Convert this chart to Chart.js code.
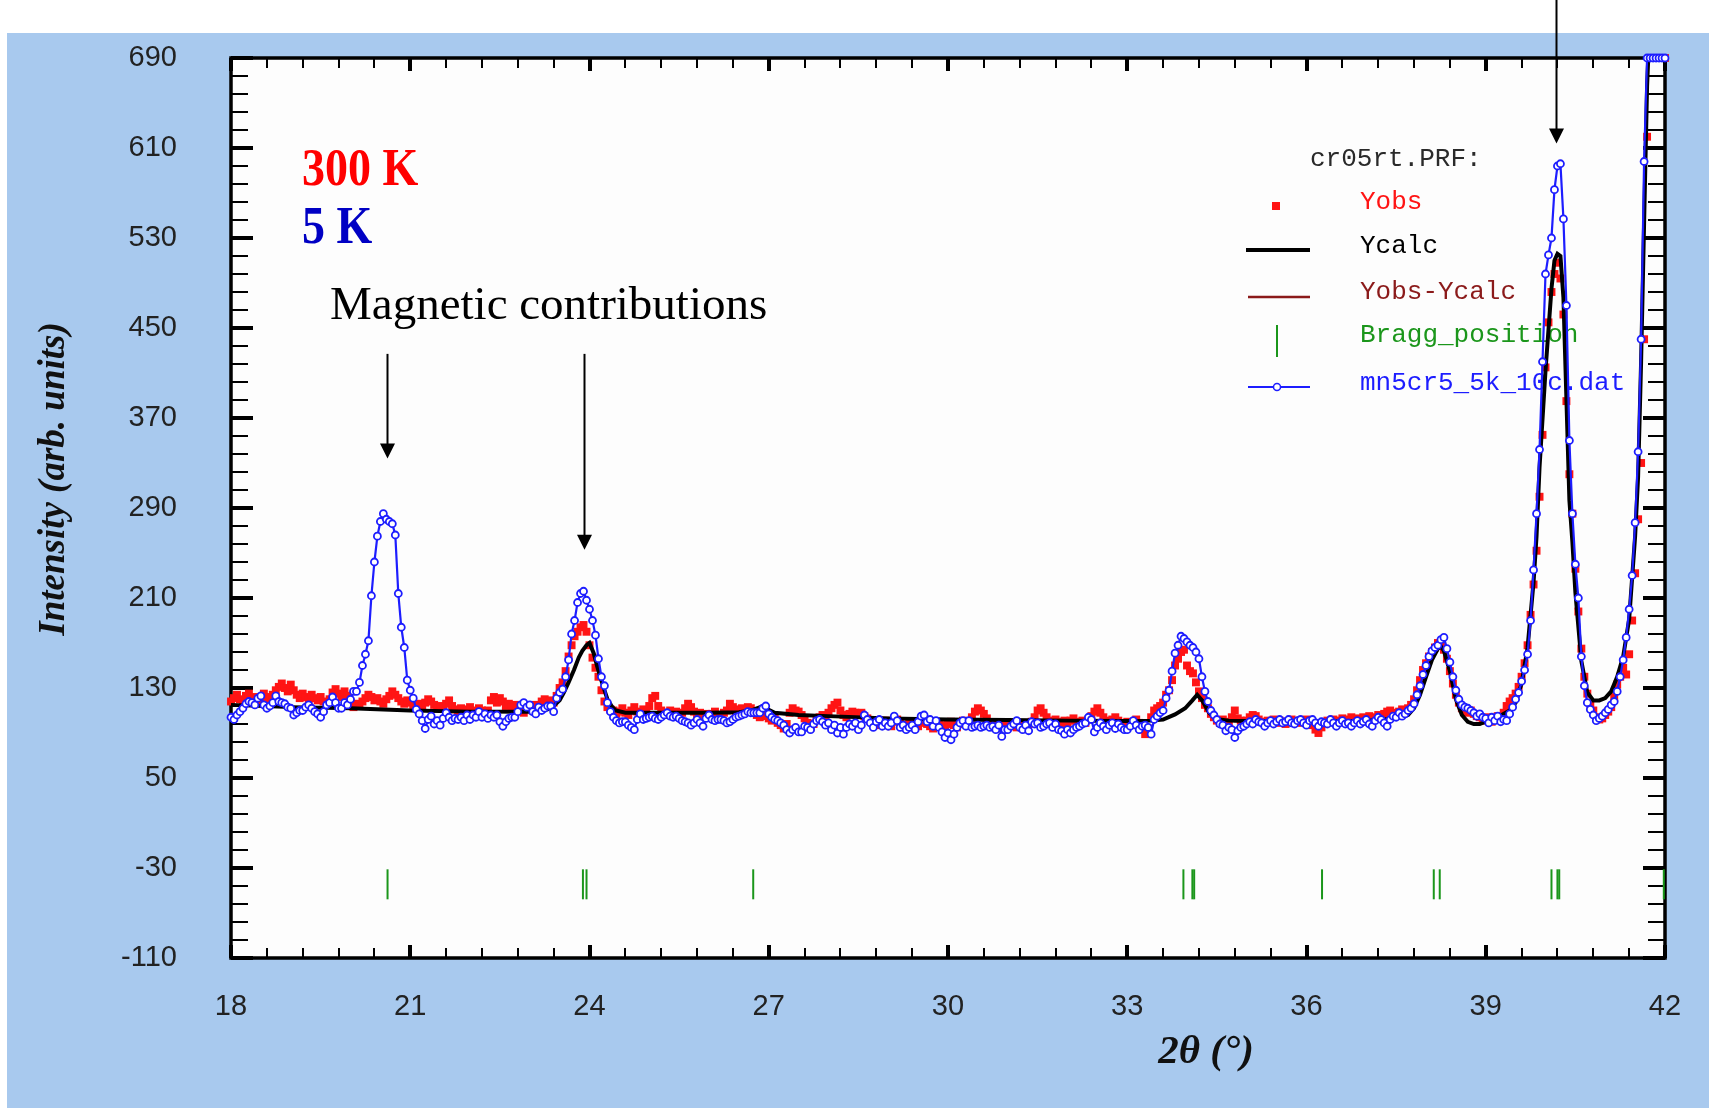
<!DOCTYPE html>
<html>
<head>
<meta charset="utf-8">
<script src="https://cdn.jsdelivr.net/npm/chart.js@4.4.1/dist/chart.umd.min.js"></script>
<style>
    html, body { margin: 0; padding: 0; background: #fff; }
    canvas { display: block; }
</style>
</head>
<body>
<canvas id="graficoDifracao" width="1709" height="1108"></canvas>
<script>
// grade de 2θ da medida (passo fixo)
const inicio2Theta = 18;
const passo2Theta = 0.05;

// Yobs a 300 K (cr05rt.PRF), uma linha por grau
const intensidade300K = [
    118, 121, 124, 120, 118, 123, 125, 120, 122, 118, 121, 125, 122, 120, 124, 128, 131, 134, 130, 127,
    133, 128, 124, 121, 125, 122, 120, 124, 121, 119, 122, 118, 116, 120, 126, 129, 125, 122, 127, 123,
    117, 113, 116, 114, 118, 121, 124, 122, 119, 121, 118, 116, 120, 123, 127, 124, 121, 118, 116, 119,
    117, 115, 113, 116, 114, 117, 120, 118, 115, 112, 114, 113, 116, 119, 114, 111, 109, 112, 108, 111,
    113, 110, 108, 112, 110, 107, 110, 119, 122, 117, 121, 118, 114, 116, 113, 115, 112, 110, 108, 112,
    113, 110, 115, 112, 118, 120, 116, 119, 117, 123, 130, 135, 145, 158, 168, 176, 180, 184, 186, 180,
    168, 157, 148, 140, 128, 118, 113, 111, 110, 107, 109, 112, 108, 106, 110, 113, 109, 107, 111, 108,
    114, 121, 123, 114, 110, 108, 106, 110, 107, 109, 105, 108, 112, 116, 113, 109, 106, 108, 105, 107,
    104, 107, 109, 106, 104, 108, 110, 116, 113, 109, 111, 112, 110, 113, 112, 108, 106, 104, 107, 105,
    103, 101, 104, 99, 97, 94, 98, 108, 112, 110, 109, 106, 103, 99, 95, 98, 102, 104, 106, 104,
    108, 112, 115, 117, 110, 106, 104, 107, 109, 108, 106, 108, 105, 103, 101, 98, 100, 97, 99, 101,
    98, 96, 100, 102, 99, 97, 95, 98, 100, 99, 96, 99, 101, 98, 96, 94, 97, 99, 97, 95,
    98, 100, 97, 95, 98, 101, 99, 97, 104, 109, 112, 110, 107, 103, 99, 97, 95, 98, 94, 97,
    99, 96, 98, 95, 97, 99, 96, 98, 100, 104, 110, 112, 108, 104, 101, 99, 102, 100, 98, 101,
    99, 101, 103, 100, 98, 101, 99, 102, 105, 109, 112, 108, 104, 101, 99, 102, 104, 101, 97, 95,
    100, 97, 99, 102, 99, 93, 89, 94, 104, 110, 112, 114, 117, 124, 128, 137, 150, 156, 162, 164,
    150, 145, 143, 135, 127, 121, 115, 112, 107, 104, 101, 99, 102, 97, 100, 104, 110, 103, 101, 99,
    101, 104, 106, 105, 102, 100, 99, 101, 100, 102, 99, 101, 100, 98, 100, 102, 100, 99, 101, 100,
    102, 100, 97, 93, 90, 95, 99, 101, 100, 102, 99, 101, 103, 101, 102, 104, 101, 103, 102, 104,
    103, 105, 102, 104, 106, 104, 107, 109, 110, 108, 106, 109, 111, 110, 112, 115, 120, 128, 137, 146,
    152, 158, 162, 166, 170, 168, 164, 156, 145, 134, 124, 117, 112, 109, 108, 110, 107, 105, 104, 101,
    102, 104, 100, 102, 105, 103, 108, 114, 118, 121, 125, 131, 140, 152, 168, 195, 222, 252, 300, 355,
    415, 455, 482, 498, 508, 494, 462, 385, 320, 285, 236, 198, 165, 140, 125, 116, 110, 104, 102, 103,
    106, 109, 113, 122, 133, 140, 148, 142, 160, 190, 232, 280, 330, 440, 620, 690, 690, 690, 690, 690,
    690
];

// mn5cr5 a 5 K, mesma grade
const intensidade5K = [
    104, 102, 106, 109, 112, 116, 118, 117, 115, 121, 123, 115, 112, 114, 117, 123, 118, 117, 116, 113,
    112, 106, 108, 110, 110, 113, 115, 112, 109, 107, 104, 109, 115, 117, 122, 117, 112, 112, 117, 115,
    120, 127, 127, 135, 150, 160, 172, 212, 242, 265, 278, 285, 280, 278, 276, 266, 214, 184, 166, 137,
    128, 121, 111, 107, 101, 94, 102, 105, 98, 101, 97, 103, 108, 104, 101, 103, 102, 104, 101, 106,
    102, 106, 104, 109, 104, 107, 103, 106, 104, 106, 100, 96, 100, 103, 104, 104, 109, 115, 117, 113,
    115, 109, 107, 113, 110, 112, 114, 114, 109, 121, 126, 129, 140, 155, 178, 190, 206, 214, 216, 208,
    200, 190, 177, 156, 140, 132, 117, 109, 104, 101, 99, 100, 100, 97, 95, 93, 102, 107, 102, 103,
    104, 105, 103, 102, 104, 106, 108, 105, 104, 105, 103, 101, 100, 99, 97, 99, 102, 99, 96, 103,
    106, 102, 101, 102, 102, 101, 99, 100, 102, 104, 105, 106, 107, 109, 108, 108, 108, 108, 112, 114,
    107, 104, 102, 101, 99, 97, 93, 90, 93, 95, 91, 91, 96, 95, 93, 98, 101, 102, 100, 97,
    99, 93, 97, 90, 95, 89, 95, 98, 96, 99, 93, 97, 106, 102, 99, 95, 100, 102, 96, 99,
    96, 99, 105, 101, 95, 97, 93, 95, 97, 93, 100, 105, 106, 100, 102, 96, 101, 95, 91, 86,
    90, 84, 89, 95, 99, 101, 96, 101, 95, 96, 97, 95, 96, 97, 95, 96, 93, 97, 87, 93,
    93, 96, 98, 101, 95, 93, 97, 92, 100, 98, 99, 95, 96, 98, 99, 95, 98, 93, 92, 89,
    93, 90, 93, 95, 96, 98, 99, 104, 102, 91, 95, 99, 96, 93, 97, 99, 94, 98, 95, 93,
    93, 96, 101, 97, 93, 96, 97, 95, 89, 102, 105, 108, 110, 121, 128, 145, 161, 168, 176, 174,
    171, 168, 166, 162, 156, 140, 127, 118, 110, 106, 102, 98, 97, 92, 95, 93, 86, 92, 95, 96,
    98, 100, 98, 102, 100, 99, 96, 99, 101, 98, 100, 102, 99, 100, 102, 99, 98, 101, 102, 99,
    97, 101, 102, 99, 96, 100, 99, 98, 102, 99, 96, 99, 101, 98, 99, 96, 99, 101, 98, 100,
    102, 98, 96, 101, 104, 102, 99, 96, 102, 105, 104, 108, 105, 107, 110, 112, 116, 124, 132, 142,
    150, 158, 163, 166, 168, 173, 175, 165, 153, 140, 128, 120, 115, 113, 112, 110, 108, 105, 107, 104,
    103, 99, 104, 101, 105, 100, 102, 101, 107, 113, 120, 126, 136, 146, 160, 190, 235, 285, 342, 420,
    498, 515, 530, 573, 594, 596, 547, 470, 350, 285, 240, 210, 158, 132, 117, 111, 106, 101, 103, 105,
    108, 111, 115, 118, 127, 140, 155, 175, 200, 230, 277, 340, 440, 598, 690, 690, 690, 690, 690, 690,
    690
];

// perfil calculado (Ycalc)
const angulosCalc = [
    18.0, 19.0, 20.0, 21.0, 22.0, 23.0, 23.3, 23.4, 23.5, 23.57, 23.65, 23.74, 23.82, 23.88, 23.95, 24.0,
    24.07, 24.13, 24.19, 24.25, 24.3, 24.37, 24.44, 24.6, 25.0, 26.0, 26.5, 26.7, 26.8, 26.88, 26.95, 27.1,
    27.5, 28.0, 29.0, 30.0, 31.0, 32.0, 33.0, 33.4, 33.6, 33.8, 33.97, 34.09, 34.17, 34.26, 34.37, 34.48,
    34.7, 35.0, 36.0, 37.0, 37.5, 37.7, 37.8, 37.9, 38.0, 38.1, 38.2, 38.25, 38.3, 38.4, 38.5, 38.6,
    38.7, 38.8, 38.9, 39.0, 39.2, 39.4, 39.5, 39.6, 39.7, 39.8, 39.85, 39.9, 40.0, 40.1, 40.15, 40.2,
    40.25, 40.3, 40.35, 40.4, 40.45, 40.5, 40.6, 40.7, 40.8, 40.9, 41.0, 41.1, 41.2, 41.3, 41.4, 41.5,
    41.55, 41.6, 41.65, 41.7, 41.72, 42.0
];
const yCalc = [
    115, 113, 112, 110, 109, 109, 111, 114, 119, 126, 135, 146, 157, 163, 168, 170,
    161, 149, 138, 128, 120, 114, 110, 108, 108, 108, 108.5, 110, 112, 113.5, 112, 108,
    106, 105, 103, 102, 101.5, 101, 100.6, 101, 102, 106.5, 112, 119, 124, 118.5, 108, 102.5,
    101, 100.6, 100, 101, 103, 106, 112, 124, 140, 155, 165, 167, 163, 145, 120, 106,
    100, 98, 98, 100, 104, 110, 117, 134, 166, 224, 265, 326, 412, 485, 510, 516,
    514, 477, 387, 297, 260, 215, 154, 126, 119, 119, 121, 127, 140, 158, 191, 265,
    318, 420, 543, 665, 690, 690
];

// posições de Bragg
const posicoesBragg = [20.62, 23.89, 23.95, 26.74, 33.94, 34.09, 34.12, 36.26, 38.13, 38.23, 40.10, 40.20, 40.23, 41.98];
const nivelBragg = -44.5;

// setas: ângulo, topo e ponta (em intensidade)
const setaAngulos = [20.61, 23.9, 40.18];
const setaTopo = [427, 427, 742];
const setaPonta = [334, 253, 614];

const corFundo = '#a8c9ee';
const azul = '#1d1dff';
const vermelho = '#ff1414';
const verde = '#1b961b';
const vinho = '#8b1a1a';

const angulos = intensidade300K.map((_, i) => +(inicio2Theta + i * passo2Theta).toFixed(2));
const pontos = (xs, ys) => xs.map((x, i) => ({ x: x, y: ys[i] }));

function desenharLegenda(ctx) {
    ctx.save();
    ctx.font = '26px "Liberation Mono", "DejaVu Sans Mono", monospace';
    ctx.textBaseline = 'alphabetic';
    ctx.fillStyle = '#2a2a2a';
    ctx.fillText('cr05rt.PRF:', 1310, 166);

    ctx.fillStyle = vermelho;
    ctx.fillRect(1272, 202, 8, 8);
    ctx.fillText('Yobs', 1360, 209);

    ctx.strokeStyle = '#000';
    ctx.lineWidth = 4;
    ctx.beginPath(); ctx.moveTo(1246, 250); ctx.lineTo(1310, 250); ctx.stroke();
    ctx.fillStyle = '#000';
    ctx.fillText('Ycalc', 1360, 253);

    ctx.strokeStyle = vinho;
    ctx.lineWidth = 2.5;
    ctx.beginPath(); ctx.moveTo(1248, 297); ctx.lineTo(1310, 297); ctx.stroke();
    ctx.fillStyle = vinho;
    ctx.fillText('Yobs-Ycalc', 1360, 299);

    ctx.strokeStyle = verde;
    ctx.lineWidth = 2;
    ctx.beginPath(); ctx.moveTo(1277, 325); ctx.lineTo(1277, 357); ctx.stroke();
    ctx.fillStyle = verde;
    ctx.fillText('Bragg_position', 1360, 342);

    ctx.strokeStyle = azul;
    ctx.lineWidth = 2;
    ctx.beginPath(); ctx.moveTo(1248, 387); ctx.lineTo(1310, 387); ctx.stroke();
    ctx.beginPath(); ctx.arc(1277, 387, 3.5, 0, Math.PI * 2);
    ctx.fillStyle = '#fff'; ctx.fill(); ctx.lineWidth = 1.5; ctx.stroke();
    ctx.fillStyle = azul;
    ctx.fillText('mn5cr5_5k_10c.dat', 1360, 390);
    ctx.restore();
}

function desenharEixos(chart) {
    const { ctx, chartArea: a, scales: { x, y } } = chart;
    ctx.save();
    ctx.strokeStyle = '#000';
    // 2θ: marcas a cada 0.6°, maiores a cada 3°
    for (let i = 0; i <= 40; i++) {
        const px = Math.round(x.getPixelForValue(x.min + i * 0.6));
        const maior = i % 5 === 0;
        const len = maior ? 13 : 10;
        ctx.lineWidth = maior ? 4 : 2;
        ctx.beginPath();
        ctx.moveTo(px, a.bottom); ctx.lineTo(px, a.bottom - len);
        ctx.moveTo(px, a.top); ctx.lineTo(px, a.top + len);
        ctx.stroke();
    }
    // intensidade: marcas a cada 16, maiores a cada 80
    for (let i = 0; i <= 50; i++) {
        const py = Math.round(y.getPixelForValue(y.min + i * 16));
        const maior = i % 5 === 0;
        const len = maior ? 22 : 17;
        ctx.lineWidth = maior ? 4 : 2;
        ctx.beginPath();
        ctx.moveTo(a.left, py); ctx.lineTo(a.left + len, py);
        ctx.moveTo(a.right, py); ctx.lineTo(a.right - len, py);
        ctx.stroke();
    }
    ctx.lineWidth = 3.5;
    ctx.strokeRect(a.left, a.top, a.right - a.left, a.bottom - a.top);
    ctx.restore();
}

function desenharSetas(chart) {
    const { ctx, scales: { x, y } } = chart;
    ctx.save();
    ctx.strokeStyle = '#000';
    ctx.fillStyle = '#000';
    ctx.lineWidth = 2;
    setaAngulos.forEach((ang, i) => {
        const px = Math.round(x.getPixelForValue(ang)) + 0.5;
        const yTopo = y.getPixelForValue(setaTopo[i]);
        const yPonta = y.getPixelForValue(setaPonta[i]);
        ctx.beginPath();
        ctx.moveTo(px, yTopo);
        ctx.lineTo(px, yPonta - 12);
        ctx.stroke();
        ctx.beginPath();
        ctx.moveTo(px - 7.5, yPonta - 15);
        ctx.lineTo(px + 7.5, yPonta - 15);
        ctx.lineTo(px, yPonta);
        ctx.closePath();
        ctx.fill();
    });
    ctx.restore();
}

function textoEsticado(ctx, texto, x, yBase, fonte, cor, escalaY) {
    ctx.save();
    ctx.font = fonte;
    ctx.fillStyle = cor;
    ctx.translate(x, yBase);
    ctx.scale(1, escalaY);
    ctx.fillText(texto, 0, 0);
    ctx.restore();
}

function desenharTextos(ctx) {
    textoEsticado(ctx, '300 K', 302, 185, 'bold 46px "Liberation Serif", serif', '#ff0000', 1.17);
    textoEsticado(ctx, '5 K', 302, 243, 'bold 46px "Liberation Serif", serif', '#0000c4', 1.15);
    textoEsticado(ctx, 'Magnetic contributions', 330, 319, '47px "Liberation Serif", serif', '#000', 1);
}

function desenharTitulos(ctx) {
    ctx.save();
    ctx.fillStyle = '#111';
    ctx.font = 'italic bold 37px "Liberation Serif", serif';
    ctx.textAlign = 'center';
    ctx.textBaseline = 'middle';
    ctx.translate(54, 479);
    ctx.rotate(-Math.PI / 2);
    ctx.fillText('Intensity (arb. units)', 0, 0);
    ctx.restore();

    ctx.save();
    ctx.fillStyle = '#111';
    ctx.font = 'italic bold 41px "Liberation Serif", serif';
    ctx.textAlign = 'center';
    ctx.fillText('2θ (°)', 1206, 1063);
    ctx.restore();
}

const molduraPlugin = {
    id: 'moldura',
    beforeDraw(chart) {
        const { ctx, chartArea: a, width, height } = chart;
        ctx.save();
        ctx.fillStyle = '#ffffff';
        ctx.fillRect(0, 0, width, height);
        ctx.fillStyle = corFundo;
        ctx.fillRect(7, 33, width - 7, height - 33);
        ctx.fillStyle = '#fdfdfd';
        ctx.fillRect(a.left, a.top, a.right - a.left, a.bottom - a.top);
        ctx.restore();
    },
    beforeDatasetsDraw(chart) {
        desenharLegenda(chart.ctx);
        desenharEixos(chart);
    },
    afterDatasetsDraw(chart) {
        desenharSetas(chart);
        desenharTextos(chart.ctx);
    },
    afterDraw(chart) {
        desenharTitulos(chart.ctx);
    }
};

const fonteTicks = { family: '"Liberation Sans", Arial, sans-serif', size: 29 };

new Chart(document.getElementById('graficoDifracao'), {
    type: 'scatter',
    data: {
        datasets: [
            {
                label: 'mn5cr5_5k_10c.dat',
                data: pontos(angulos, intensidade5K),
                showLine: true,
                borderColor: azul,
                borderWidth: 2.2,
                pointRadius: 3.5,
                pointBorderWidth: 1.8,
                pointBorderColor: azul,
                pointBackgroundColor: '#ffffff',
                clip: 8,
                order: 0
            },
            {
                label: 'Ycalc',
                data: pontos(angulosCalc, yCalc),
                showLine: true,
                borderColor: '#000',
                borderWidth: 4,
                pointRadius: 0,
                clip: 4,
                order: 1
            },
            {
                label: 'Yobs',
                data: pontos(angulos, intensidade300K),
                showLine: false,
                pointStyle: 'rect',
                pointRadius: 5.6,
                borderWidth: 0,
                backgroundColor: vermelho,
                borderColor: vermelho,
                clip: 8,
                order: 2
            },
            {
                label: 'Bragg_position',
                data: posicoesBragg.map(p => ({ x: p, y: nivelBragg })),
                showLine: false,
                pointStyle: 'line',
                rotation: 90,
                pointRadius: 15,
                borderWidth: 2,
                borderColor: verde,
                clip: 4,
                order: 3
            }
        ]
    },
    options: {
        responsive: false,
        animation: false,
        events: [],
        layout: { padding: { top: 58, right: 44, left: 0, bottom: 0 } },
        plugins: {
            legend: { display: false },
            tooltip: { enabled: false }
        },
        scales: {
            x: {
                type: 'linear',
                min: 18,
                max: 42,
                grid: { display: false, drawTicks: true, tickLength: 22 },
                border: { display: false },
                ticks: { stepSize: 3, padding: 10, autoSkip: false, maxRotation: 0, color: '#222', font: fonteTicks },
                afterFit: s => { s.height = 150; }
            },
            y: {
                type: 'linear',
                min: -110,
                max: 690,
                grid: { display: false, drawTicks: true, tickLength: 44 },
                border: { display: false },
                ticks: { stepSize: 80, padding: 10, color: '#222', font: fonteTicks },
                afterFit: s => { s.width = 231; }
            }
        }
    },
    plugins: [molduraPlugin]
});
</script>
</body>
</html>
